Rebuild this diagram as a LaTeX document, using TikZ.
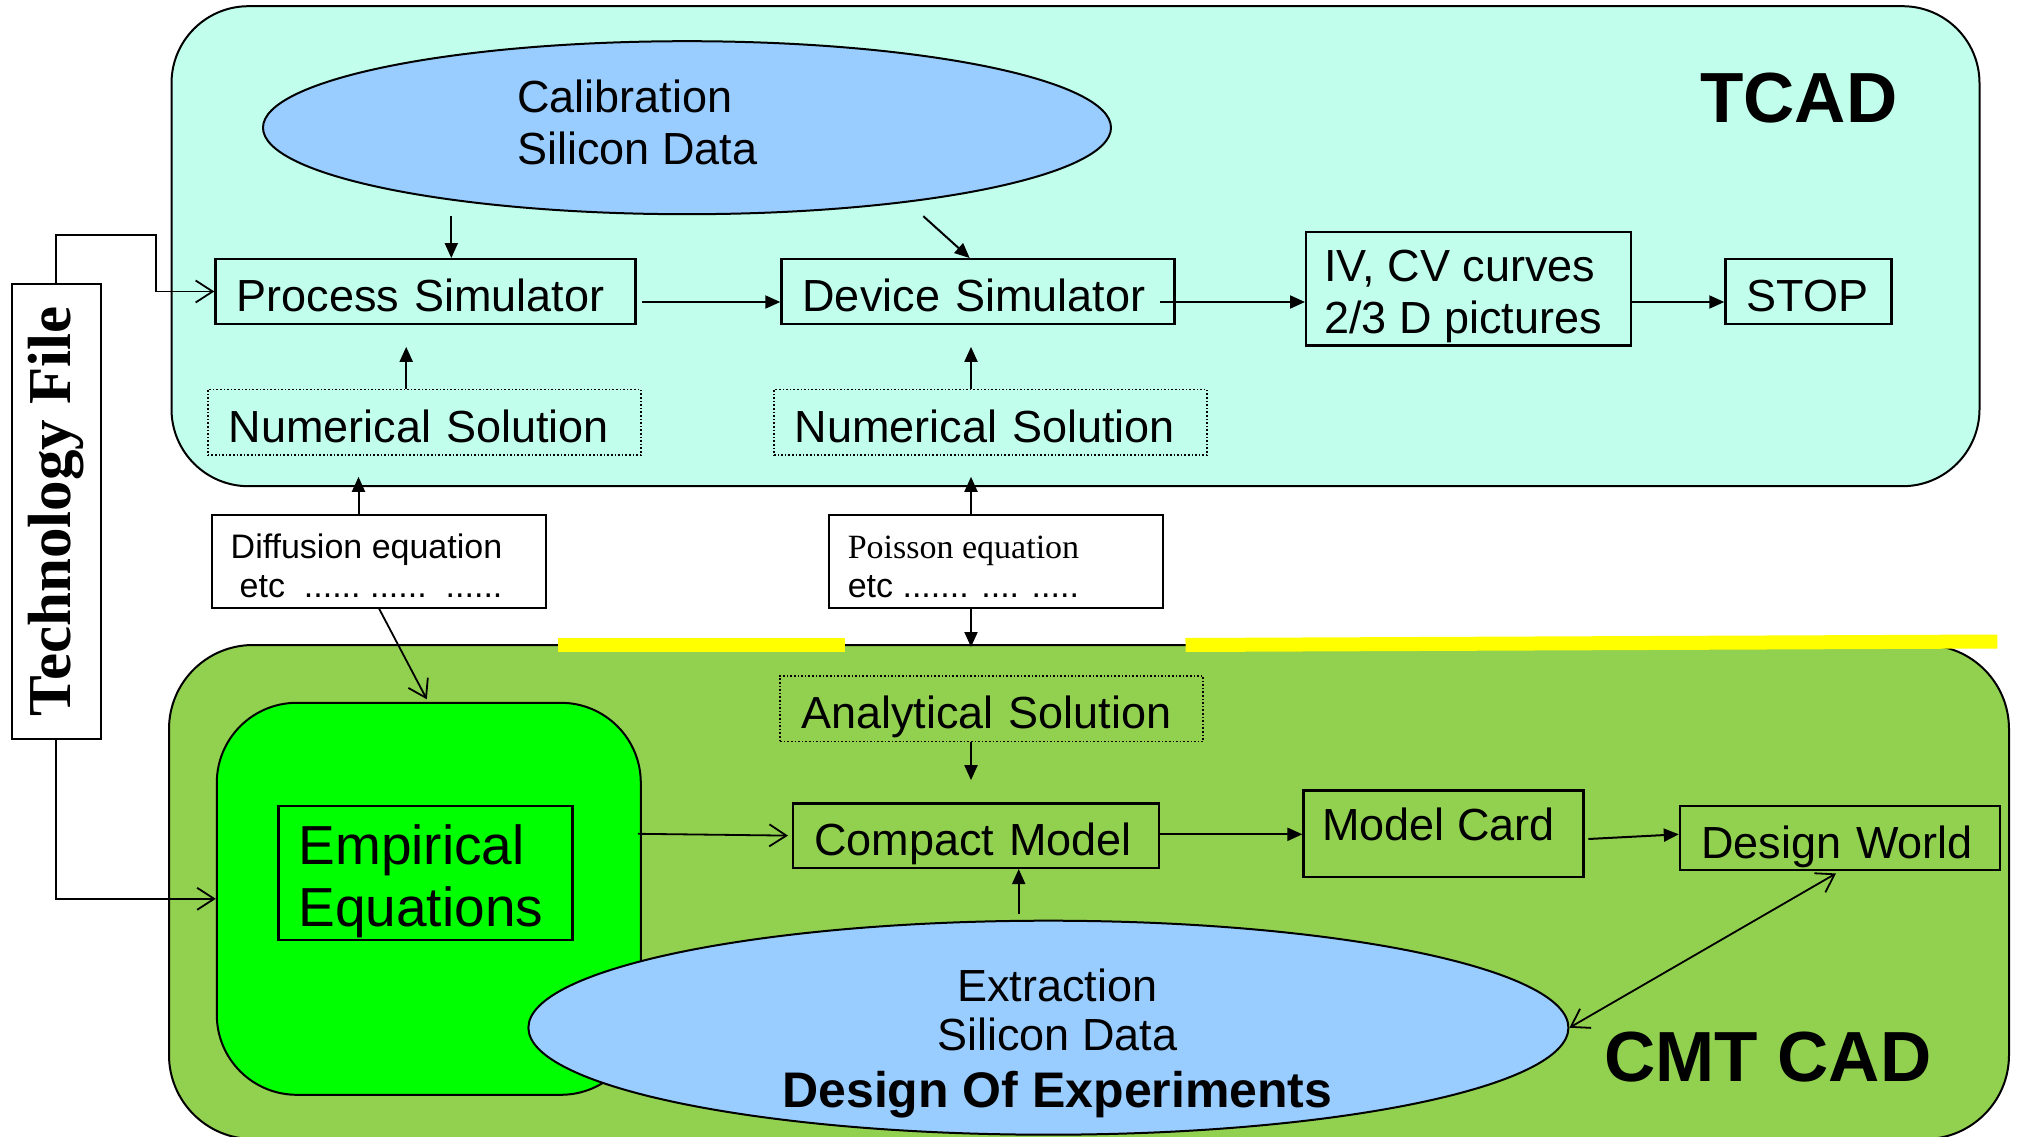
\documentclass[tikz,border=0pt]{standalone}
\usepackage{fontspec}
\setmainfont{Liberation Sans}
\newfontfamily\timesface{Liberation Serif}
\usetikzlibrary{arrows.meta,calc,shapes.geometric}
\definecolor{tcadfill}{HTML}{C1FFEC}
\definecolor{cmtfill}{HTML}{92D050}
\definecolor{datafill}{HTML}{99CCFF}
\definecolor{empfill}{HTML}{00FF00}
\definecolor{hilite}{HTML}{FFFF00}
\begin{document}
\begin{tikzpicture}[x=1pt, y=-1pt,
  zone/.style={draw, line width=2pt, inner sep=0pt},
  frame/.style={draw, line width=2.4pt, inner sep=0pt},
  box/.style={draw, line width=2.4pt, inner xsep=21pt, inner ysep=0pt, align=left,
              text height=40pt, text depth=0pt, font=\fontsize{45}{52}\selectfont},
  dotbox/.style={box, line width=1.6pt, dotted},
  note/.style={draw, line width=2pt, fill=white, inner sep=0pt,
               minimum width=334pt, minimum height=93pt},
  notetext/.style={inner sep=0pt, anchor=west, align=left, font=\fontsize{34}{39}\selectfont},
  blob/.style={ellipse, draw, line width=2pt, fill=datafill, inner sep=0pt},
  lbl/.style={inner sep=0pt, font=\fontsize{45}{52}\selectfont},
  title/.style={inner sep=0pt, font=\bfseries\fontsize{71}{80}\selectfont},
  fa/.style={-{Triangle[length=15pt,width=13pt]}, line width=2pt},
  oa/.style={-{Straight Barb[length=17pt,width=22pt]}, line width=1.8pt},
  oaa/.style={{Straight Barb[length=17pt,width=22pt]}-{Straight Barb[length=17pt,width=22pt]}, line width=1.8pt},
]
\useasboundingbox (0,0) rectangle (2022,1137);

% the two tool-flow regions
\node[zone, fill=tcadfill, rounded corners=77pt, minimum width=1808pt, minimum height=480pt]
  (tcadzone) at (1075.5,246.2) {};
\node[zone, fill=cmtfill, rounded corners=84pt, minimum width=1840pt, minimum height=494pt]
  (cmtzone) at (1089,892) {};

% highlight strips along the top of the CMT region
\draw[hilite, line width=14pt] (557.6,645) -- (844.6,645);
\draw[hilite, line width=14pt] (1185.5,645) -- (1997.4,641.5);

% empirical block
\node[zone, fill=empfill, rounded corners=80pt, minimum width=424pt, minimum height=392pt]
  (green) at (428.8,898.8) {};
\node[frame, minimum width=294pt, minimum height=134pt] (emp) at (425.5,873) {};
\node[lbl, anchor=west, align=left, font=\fontsize{55}{62}\selectfont]
  (emptext) at ($(emp.west)+(21,8)$) {Empirical\\Equations};

% silicon data ellipses
\node[blob, minimum width=848pt, minimum height=173pt] (cal) at (687,127.7) {};
\node[lbl, anchor=west, align=left] (caltext) at (517,122.5) {Calibration\\Silicon Data};
\node[blob, minimum width=1040pt, minimum height=214pt] (ext) at (1048.4,1027.7) {};
\node[lbl] (ext1) at (1057.4,985.2) {Extraction};
\node[lbl] (ext2) at (1057.4,1034.2) {Silicon Data};
\node[lbl, font=\bfseries\fontsize{50}{56}\selectfont, text depth=0pt] (ext3) at (1057.4,1089.6) {Design Of Experiments};

% titles
\node[title] (tcadtitle) at (1798.9,98) {TCAD};
\node[title] (cmttitle) at (1767.9,1057.4) {CMT CAD};

% TCAD chain
\node[box, text width=378pt, minimum height=64.5pt] (ps) at (425.5,291.5) {Process Simulator};
\node[box, text width=351pt, minimum height=64.5pt] (ds) at (978,291.5) {Device Simulator};
\node[frame, minimum width=325pt, minimum height=113.5pt] (iv) at (1468.7,288.9) {};
\node[lbl, anchor=west, align=left] (ivtext) at ($(iv.west)+(19,8)$) {IV, CV curves\\2/3 D pictures};
\node[box, text width=124pt, minimum height=64.5pt] (stop) at (1808.5,291.5) {STOP};
\node[dotbox, text width=391pt, minimum height=65.8pt] (num1) at (424.3,422.3) {Numerical Solution};
\node[dotbox, text width=391pt, minimum height=65.8pt] (num2) at (990.4,422.3) {Numerical Solution};

% equations between the regions
\node[note] (diff) at (378.5,561) {};
\node[notetext] (difftext) at ($(diff.west)+(20,5)$)
  {Diffusion equation\\\hspace*{9pt}etc\ \ ......\ ......\ \ ......};
\node[note] (pois) at (996.1,561) {};
\node[notetext] (poistext) at ($(pois.west)+(19.5,6)$)
  {{\timesface Poisson equation}\\etc ....... .... .....};

% technology file
\node[draw, line width=2pt, fill=white, rotate=90, minimum width=455pt, minimum height=89pt,
      inner sep=0pt, font=\timesface\bfseries\fontsize{61}{61}\selectfont]
  (tech) at (56.1,511.3) {Technology File};

% CMT chain
\node[dotbox, text width=381pt, minimum height=65.8pt] (ana) at (991.6,708.6) {Analytical Solution};
\node[box, text width=324pt, minimum height=64.5pt] (cm) at (976.2,835.6) {Compact Model};
\node[frame, minimum width=280pt, minimum height=86.4pt] (mc) at (1443.6,833.7) {};
\node[lbl, anchor=north west] (mctext) at ($(mc.north west)+(19.5,18)$) {Model Card};
\node[box, text width=278pt, minimum height=64.5pt] (dw) at (1840,838) {Design World};

\coordinate (cmtentry) at (971,647);

% connectors
\draw[oa] (tech.east) -- ++(0,-47.7) -| ($(ps.west)+(-58,0)$) -- (ps.west);
\draw[oa] (tech.west) |- (green.west);
\draw[fa] ($(cal.south)+(-235.7,1)$) -- ($(ps.north)+(25.8,0)$);
\draw[fa] ($(cal.south)+(236.3,1)$) -- ($(ds.north)+(-8.3,0)$);
\draw[fa] ($(ps.east)+(5.3,10.5)$) -- ($(ds.west)+(0,10.5)$);
\draw[fa] ($(ds.east)+(-15.7,10.5)$) -- ($(iv.west)+(0,13.1)$);
\draw[fa] ($(iv.east)+(0,13.1)$) -- ($(stop.west)+(0,10.5)$);
\draw[fa] ($(num1.north)+(-18.1,0)$) -- ($(ps.south)+(-19.3,21.9)$);
\draw[fa] ($(num2.north)+(-19.4,0)$) -- ($(ds.south)+(-7,21.9)$);
\draw[fa] ($(diff.north)+(-20,0)$) -- ($(num1.south)+(-65.8,20.8)$);
\draw[fa] ($(pois.north)+(-25.1,0)$) -- ($(num2.south)+(-19.4,20.8)$);
\draw[fa] ($(pois.south)+(-25.1,0)$) -- (cmtentry);
\draw[oa] ($(diff.south)+(0.5,0)$) -- ($(green.north)+(-2,-2.5)$);
\draw[fa] ($(ana.south)+(-20.6,0)$) -- ($(cm.north)+(-5.2,-22)$);
\draw[oa] ($(green.east)+(-4,-65)$) -- ($(cm.west)+(-4,0)$);
\draw[fa] ($(ext.north)+(-29.7,-6)$) -- ($(cm.south)+(42.5,0)$);
\draw[fa] ($(cm.east)+(0,-1.3)$) -- ($(mc.west)+(0,0.6)$);
\draw[fa] ($(mc.east)+(3.5,5.3)$) -- ($(dw.west)+(0,-3.7)$);
\draw[oaa] ($(dw.south)+(-4,2)$) -- (ext.east);
\end{tikzpicture}
\end{document}
